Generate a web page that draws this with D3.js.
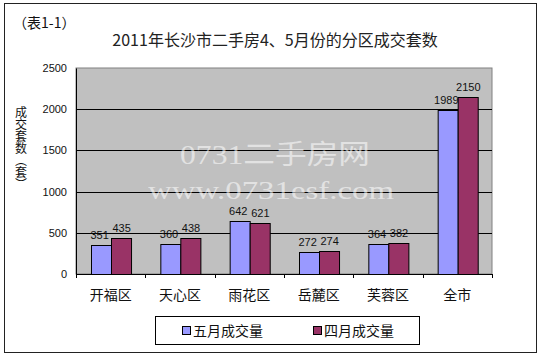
<!DOCTYPE html>
<html>
<head>
<meta charset="utf-8">
<script src="https://cdn.jsdelivr.net/npm/d3@7"></script>
<style>
  body { margin: 0; background: #fff; }
  svg { display: block; font-family: "Liberation Sans", "Noto Sans CJK SC", sans-serif; }
  .cjk { font-family: "Noto Sans CJK SC", sans-serif; }
</style>
</head>
<body>
<div id="chart"></div>
<script>
// 2011 Changsha second-hand housing deals by district, April / May

const districts = ['开福区', '天心区', '雨花区', '岳麓区', '芙蓉区', '全市'];
const seriesNames = ['五月成交量', '四月成交量'];
const mayDeals = [351, 360, 642, 272, 364, 1989];
const aprilDeals = [435, 438, 621, 274, 382, 2150];
const yTicks = [0, 500, 1000, 1500, 2000, 2500];
const yTitle = '成交套数（套）';

const W = 543, H = 357;
const colors = { '五月成交量': '#9999ff', '四月成交量': '#993366' };
const plot = { left: 76, right: 492, top: 68, bottom: 274 };

const svg = d3.select('#chart').append('svg')
  .attr('width', W).attr('height', H);

// outer frame
svg.append('rect')
  .attr('x', 4.5).attr('y', 3.5)
  .attr('width', 532).attr('height', 349)
  .attr('fill', '#fff').attr('stroke', '#222').attr('stroke-width', 1);

// headings
svg.append('text').attr('class', 'cjk')
  .attr('x', 13).attr('y', 28)
  .attr('font-size', 14).attr('fill', '#111')
  .text('（表1-1）');

svg.append('text').attr('class', 'cjk')
  .attr('x', 275).attr('y', 46)
  .attr('text-anchor', 'middle')
  .attr('font-size', 16).attr('fill', '#222')
  .text('2011年长沙市二手房4、5月份的分区成交套数');

// scales
const x0 = d3.scaleBand().domain(districts).range([plot.left, plot.right]);
const x1 = d3.scaleBand().domain(seriesNames).range([0, x0.bandwidth()]).paddingOuter(0.73);
const y = d3.scaleLinear().domain([0, 2500]).range([plot.bottom, plot.top]);

// plot background
svg.append('rect')
  .attr('x', plot.left).attr('y', plot.top)
  .attr('width', plot.right - plot.left).attr('height', plot.bottom - plot.top)
  .attr('fill', '#c0c0c0').attr('stroke', '#808080');

// gridlines
svg.append('g')
  .selectAll('line')
  .data(yTicks.filter(t => t > 0 && t < 2500))
  .join('line')
  .attr('x1', plot.left).attr('x2', plot.right)
  .attr('y1', d => Math.round(y(d)) + 0.5).attr('y2', d => Math.round(y(d)) + 0.5)
  .attr('stroke', '#000');

// watermark
const wm = svg.append('g').attr('fill', '#fff').attr('opacity', 0.55)
  .attr('font-family', '"Liberation Serif", "Noto Sans CJK SC", serif');
wm.append('text').attr('x', 180).attr('y', 164)
  .attr('font-size', 27).attr('textLength', 190).attr('lengthAdjust', 'spacingAndGlyphs')
  .text('0731二手房网');
wm.append('text').attr('x', 148).attr('y', 199)
  .attr('font-size', 26).attr('textLength', 246).attr('lengthAdjust', 'spacingAndGlyphs')
  .text('www.0731esf.com');

// bars
const rows = districts.map((d, i) => ({ district: d, values: [mayDeals[i], aprilDeals[i]] }));

const groups = svg.append('g')
  .selectAll('g')
  .data(rows)
  .join('g')
  .attr('transform', d => `translate(${x0(d.district)},0)`);

groups.selectAll('rect')
  .data(d => seriesNames.map((s, j) => ({ series: s, value: d.values[j] })))
  .join('rect')
  .attr('x', d => Math.round(x1(d.series)) + 0.5)
  .attr('y', d => Math.round(y(d.value)) + 0.5)
  .attr('width', x1.bandwidth())
  .attr('height', d => y(0) - Math.round(y(d.value)))
  .attr('fill', d => colors[d.series])
  .attr('stroke', '#000').attr('stroke-width', 1);

groups.selectAll('text')
  .data(d => seriesNames.map((s, j) => ({ series: s, value: d.values[j] })))
  .join('text')
  .attr('x', (d, j) => x1(d.series) + x1.bandwidth() / 2 + (j === 0 ? -1 : 1))
  .attr('y', d => y(d.value) - 6)
  .attr('text-anchor', 'middle')
  .attr('font-size', 11).attr('fill', '#111')
  .text(d => d.value);

// axes
const yAxis = svg.append('g')
  .attr('transform', `translate(${plot.left},0)`)
  .call(d3.axisLeft(y).tickValues(yTicks).tickFormat(d3.format('d')).tickSize(0).tickPadding(9));
yAxis.select('.domain').attr('stroke', '#000');
yAxis.selectAll('text').attr('font-size', 11).attr('fill', '#111')
  .attr('font-family', '"Liberation Sans", sans-serif');

const xAxis = svg.append('g')
  .attr('transform', `translate(0,${plot.bottom})`)
  .call(d3.axisBottom(x0).tickSize(0).tickPadding(16));
xAxis.select('.domain').attr('stroke', '#000');
xAxis.selectAll('text').attr('class', 'cjk').attr('font-size', 14).attr('fill', '#111');

// category boundary ticks
svg.append('g')
  .selectAll('line')
  .data(districts)
  .join('line')
  .attr('x1', d => Math.round(x0(d)) + 0.5).attr('x2', d => Math.round(x0(d)) + 0.5)
  .attr('y1', plot.bottom).attr('y2', plot.bottom + 4)
  .attr('stroke', '#000');
svg.append('line')
  .attr('x1', plot.right + 0.5).attr('x2', plot.right + 0.5)
  .attr('y1', plot.bottom).attr('y2', plot.bottom + 4)
  .attr('stroke', '#000');

// y axis title, vertical writing
svg.append('text').attr('class', 'cjk')
  .attr('x', 21).attr('y', 106)
  .attr('font-size', 12).attr('fill', '#111')
  .style('writing-mode', 'vertical-rl')
  .text(yTitle);

// legend
const legend = svg.append('g');
legend.append('rect')
  .attr('x', 155.5).attr('y', 316.5).attr('width', 264).attr('height', 28)
  .attr('fill', '#fff').attr('stroke', '#000');

const legendItems = legend.selectAll('g')
  .data(seriesNames)
  .join('g')
  .attr('transform', (d, i) => `translate(${182 + i * 131},0)`);
legendItems.append('rect')
  .attr('x', 0.5).attr('y', 326.5).attr('width', 8).attr('height', 8)
  .attr('fill', d => colors[d]).attr('stroke', '#000');
legendItems.append('text').attr('class', 'cjk')
  .attr('x', 11).attr('y', 336)
  .attr('font-size', 14).attr('fill', '#111')
  .text(d => d);
</script>
</body>
</html>
